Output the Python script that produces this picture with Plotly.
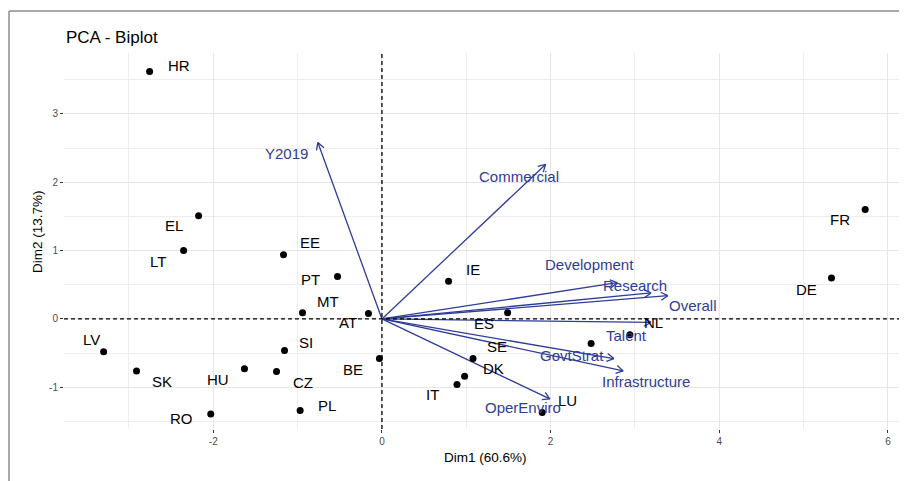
import math
import plotly.graph_objects as go

# ---------------- data ----------------
countries = ["HR", "EL", "LT", "EE", "PT", "MT", "AT", "LV", "SI", "BE", "SK", "HU", "CZ",
             "RO", "PL", "IE", "ES", "FI", "NL", "SE", "DK", "IT", "LU", "DE", "FR"]
dim1 = [-2.755, -2.174, -2.352, -1.167, -0.527, -0.942, -0.160, -3.30, -1.155, -0.03, -2.91,
        -1.63, -1.25, -2.03, -0.97, 0.79, 1.49, 2.48, 2.94, 1.08, 0.98, 0.89, 1.90, 5.33, 5.73]
dim2 = [3.62, 1.51, 1.00, 0.94, 0.62, 0.09, 0.08, -0.48, -0.46, -0.58, -0.76, -0.73, -0.77,
        -1.39, -1.34, 0.55, 0.09, -0.36, -0.23, -0.58, -0.84, -0.96, -1.37, 0.60, 1.60]
country_shown = [True] * 17 + [False] + [True] * 7

variables = ["Y2019", "Commercial", "Development", "Research", "Overall", "Talent",
             "GovtStrat", "Infrastructure", "OperEnviro"]
var_dim1 = [-0.76, 1.94, 2.79, 3.19, 3.39, 3.19, 2.75, 2.86, 1.99]
var_dim2 = [2.58, 2.26, 0.53, 0.38, 0.34, -0.05, -0.58, -0.76, -1.17]

x_ticks = [-2, 0, 2, 4, 6]
y_ticks = [-1, 0, 1, 2, 3]

# ---------------- label placement (pixel offsets, repel-like) ----------------
country_off = [(29, 4), (-25, -12), (-26, -13), (26, 10), (-27, -5), (25, 9), (-20, -11),
               (-12, 10), (21, 6), (-26, -13), (25, -13), (-26, -13), (26, -13), (-29, -7),
               (27, 3), (24, 10), (-24, -13), (0, 0), (24, 10), (24, 10), (29, 6), (-25, -12),
               (25, 10), (-25, -14), (-25, -12)]
var_off = [(-31, -13), (-27, -14), (-28, 16), (-16, 5), (25, -12), (-24, -15), (-42, 1),
           (23, -13), (-27, -11)]
LABEL_LIFT = 2

# ---------------- layout geometry ----------------
OFF = 7                      # page offset of the figure in the browser
REF_L, REF_T = 63, 52        # plot-area corner in the reference picture
ML, MT = REF_L - OFF, REF_T - OFF
pw, ph = 840, 376
W, H = 900, 474
MR, MB = W - ML - pw, H - MT - ph
XR = [-3.77, 6.19]
YR = [-1.61, 3.89]
sx = pw / (XR[1] - XR[0])
sy = ph / (YR[1] - YR[0])


def px(xp):
    return (xp - REF_L) / pw


def py(yp):
    return (REF_T + ph - yp) / ph


BLUE = "#2E3D98"
FONT = "Liberation Sans, Arial, sans-serif"

fig = go.Figure()

# arrows (shafts + open heads)
for vx, vy in zip(var_dim1, var_dim2):
    fig.add_trace(go.Scatter(x=[0, vx], y=[0, vy], mode="lines",
                             line=dict(color=BLUE, width=1.3), hoverinfo="skip",
                             showlegend=False))
    ang = math.atan2(vy * sy, vx * sx)
    L = 8
    bx, by = [], []
    for s in (1, -1):
        a = ang + math.pi - s * math.radians(30)
        bx += [vx + L * math.cos(a) / sx, vx, None]
        by += [vy + L * math.sin(a) / sy, vy, None]
    fig.add_trace(go.Scatter(x=bx, y=by, mode="lines",
                             line=dict(color=BLUE, width=1.3), hoverinfo="skip",
                             showlegend=False))

# points
fig.add_trace(go.Scatter(x=dim1, y=dim2, mode="markers",
                         marker=dict(color="black", size=7), text=countries,
                         hoverinfo="text", showlegend=False))

annotations = []
for name, x, y, shown, (dx, dy) in zip(countries, dim1, dim2, country_shown, country_off):
    if not shown:
        continue
    annotations.append(dict(x=x, y=y, xref="x", yref="y", text=name, showarrow=False,
                            xshift=dx, yshift=dy + LABEL_LIFT,
                            font=dict(family=FONT, size=15, color="black")))
for name, x, y, (dx, dy) in zip(variables, var_dim1, var_dim2, var_off):
    annotations.append(dict(x=x, y=y, xref="x", yref="y", text=name, showarrow=False,
                            xshift=dx, yshift=dy + LABEL_LIFT,
                            font=dict(family=FONT, size=15, color=BLUE)))

annotations.append(dict(x=0, y=py(37), xref="paper", yref="paper",
                        text="PCA - Biplot", showarrow=False, xanchor="left",
                        yanchor="middle", font=dict(family=FONT, size=17, color="black")))
annotations.append(dict(x=px(484), y=py(456), xref="paper", yref="paper",
                        text="Dim1 (60.6%)", showarrow=False, yanchor="middle",
                        font=dict(family=FONT, size=13.5, color="black")))
annotations.append(dict(x=px(36), y=py(231), xref="paper", yref="paper",
                        text="Dim2 (13.7%)", showarrow=False, textangle=-90,
                        xanchor="center", yanchor="middle",
                        font=dict(family=FONT, size=13.5, color="black")))

shapes = [
    dict(type="line", xref="x", yref="paper", x0=0, x1=0, y0=0, y1=1,
         line=dict(color="black", width=1.3, dash="4px,3px")),
    dict(type="line", xref="paper", yref="y", x0=0, x1=1, y0=0, y1=0,
         line=dict(color="black", width=1.3, dash="4px,3px")),
    dict(type="line", xref="paper", yref="paper", x0=px(8), x1=px(8),
         y0=py(10), y1=py(500), line=dict(color="#8C8C8C", width=1.5)),
    dict(type="line", xref="paper", yref="paper", x0=px(8), x1=px(902),
         y0=py(10), y1=py(10), line=dict(color="#8C8C8C", width=1.5)),
]

axis_common = dict(showline=False, zeroline=False, ticks="outside", ticklen=3,
                   tickcolor="#333333", tickwidth=1,
                   gridcolor="#E6E6E6", gridwidth=1,
                   tickfont=dict(family=FONT, size=10, color="#4D4D4D"))

fig.update_layout(
    width=W, height=H,
    margin=dict(l=ML, r=MR, t=MT, b=MB),
    paper_bgcolor="white", plot_bgcolor="white",
    xaxis=dict(range=XR, tickvals=x_ticks, ticktext=[str(v) for v in x_ticks],
               minor=dict(tickvals=[-3, -1, 1, 3, 5], showgrid=True, gridcolor="#EDEDED",
                          gridwidth=1, ticks=""),
               **axis_common),
    yaxis=dict(range=YR, tickvals=y_ticks, ticktext=[str(v) for v in y_ticks],
               minor=dict(tickvals=[-1.5, -0.5, 0.5, 1.5, 2.5, 3.5], showgrid=True,
                          gridcolor="#EDEDED", gridwidth=1, ticks=""),
               **axis_common),
    annotations=annotations,
    shapes=shapes,
    showlegend=False,
)

fig.write_html("out.html")
